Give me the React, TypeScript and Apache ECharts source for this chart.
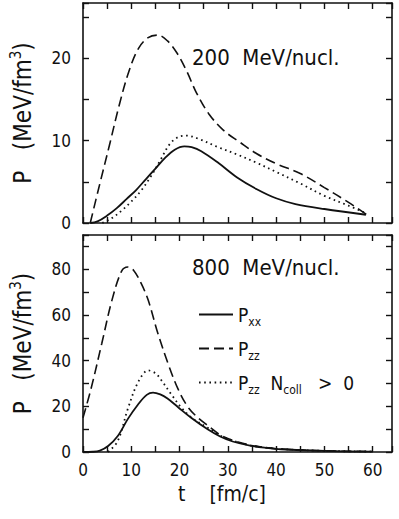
import React, { useEffect, useRef } from "react";
import * as echarts from "echarts";

// ---- data: [t (fm/c), P (MeV/fm^3)] ----
const top_Pxx: number[][] = [
  [1.5, 0], [3, 0.2], [5, 0.9], [7, 1.8], [9, 2.9], [11, 4.0], [13, 5.3], [15, 6.6],
  [17, 7.9], [19, 8.9], [21, 9.3], [22.5, 9.2], [24.5, 8.7], [28, 7.3], [32, 5.5],
  [36, 4.1], [40, 3.0], [44, 2.3], [50, 1.7], [58.6, 1.0],
];
const top_Pzz: number[][] = [
  [1.5, 0], [3.5, 4.8], [5.5, 9.5], [7.5, 14.3], [9.5, 18.4], [11.5, 21.2], [13.5, 22.5],
  [15.5, 22.8], [17.5, 22.1], [19.5, 20.6], [21.5, 18.4], [23.5, 15.8], [26, 13.3],
  [29, 11.3], [32.5, 9.8], [36, 8.4], [40, 7.2], [45, 6.0], [50, 4.3], [55, 2.5], [58.8, 1.0],
];
const top_PzzColl: number[][] = [
  [4, 0], [6, 0.6], [8, 1.5], [10, 2.6], [12, 3.9], [14, 5.6], [16, 7.6], [18, 9.6],
  [20, 10.5], [21.5, 10.6], [24, 10.2], [28, 9.2], [32, 8.3], [36, 7.3], [40, 6.2],
  [45, 4.8], [50, 3.3], [55, 2.1], [58.6, 1.2],
];
const bot_Pxx: number[][] = [
  [0, 0], [2, 0.1], [3.5, 0.6], [5.2, 2.6], [7.2, 7], [9.3, 14.5], [11.4, 20.8],
  [13.2, 25], [14.5, 26], [16, 25.2], [17.5, 23.4], [19.7, 19.6], [22.4, 15], [25.9, 9.8],
  [28.4, 6.8], [31, 4.6], [34.6, 2.8], [38, 1.8], [41, 1.2], [50, 0.5], [60, 0.2],
];
const bot_Pzz: number[][] = [
  [0, 15], [1.7, 28], [3.9, 47.6], [6, 66.5], [8, 79.2], [9.3, 81], [10.5, 79.5],
  [12, 74], [13.5, 66.5], [15.5, 52], [17.6, 38.8], [19.7, 27.5], [21.7, 19.8], [23.8, 15],
  [25.9, 11.5], [28.4, 7.5], [31, 5.1], [34.6, 3], [38, 1.9], [41, 1.3], [50, 0.5], [60, 0.2],
];
const bot_PzzColl: number[][] = [
  [5.2, 0], [7.2, 4.8], [9.3, 19], [11.4, 30.5], [13.5, 35.7], [15, 34.5], [16.2, 31.5],
  [18.2, 25.5], [20.3, 19.6], [22.4, 15.2], [25.9, 10.5], [28.4, 7.2], [31, 5], [34.6, 2.9],
  [38, 1.9], [41, 1.3], [50, 0.5], [60, 0.2],
];

const xTicks = [0, 10, 20, 30, 40, 50, 60];
const topYTicks = [0, 10, 20];
const botYTicks = [0, 20, 40, 60, 80];
const titles = ["200  MeV/nucl.", "800  MeV/nucl."];
const xTitle = "t    [fm/c]";
const seriesNames = ["Pxx", "Pzz", "Pzz Ncoll > 0"];

const FONT = "'Liberation Sans Narrow','DejaVu Sans Condensed','DejaVu Sans',sans-serif";
const BLACK = "#111";

export default function App() {
  const ref = useRef<HTMLDivElement>(null);
  useEffect(() => {
    document.body.style.margin = "0";
    const chart = echarts.init(ref.current!, undefined, { renderer: "svg" });

    const axisLineStyle = { color: BLACK, width: 1.6 };
    const mkX = (gridIndex: number, position: "bottom" | "top", labels: boolean) => ({
      type: "value",
      gridIndex,
      position,
      min: 0,
      max: 64,
      interval: 5,
      axisLine: { show: true, onZero: false, lineStyle: axisLineStyle },
      axisTick: { show: true, inside: true, length: 6, lineStyle: { color: BLACK, width: 1.4 } },
      splitLine: { show: false },
      axisLabel: {
        show: labels,
        margin: 9,
        fontSize: 17,
        fontFamily: FONT,
        color: BLACK,
        formatter: (v: number) => (xTicks.includes(v) ? String(v) : ""),
      },
    });
    const yName = {
      name: "{a|P   (MeV/fm}{b|3}{a|)}",
      nameLocation: "middle",
      nameGap: 45,
      nameTextStyle: {
        rich: {
          a: { fontSize: 24, fontFamily: FONT, color: BLACK, lineHeight: 30 },
          b: { fontSize: 15, fontFamily: FONT, color: BLACK, lineHeight: 15, verticalAlign: "top" },
        },
      },
    };
    const mkY = (gridIndex: number, position: "left" | "right", max: number, interval: number, ticks: number[] | null) => ({
      type: "value",
      gridIndex,
      position,
      min: 0,
      max,
      interval,
      axisLine: { show: true, onZero: false, lineStyle: axisLineStyle },
      axisTick: { show: true, inside: true, length: 6, lineStyle: { color: BLACK, width: 1.4 } },
      splitLine: { show: false },
      axisLabel: {
        show: !!ticks,
        margin: 12,
        fontSize: 17,
        fontFamily: FONT,
        color: BLACK,
        formatter: (v: number) => (ticks && ticks.includes(v) ? String(v) : ""),
      },
      ...(ticks ? yName : {}),
    });

    const lineStyles = [
      { color: BLACK, width: 1.8, type: "solid" },
      { color: BLACK, width: 1.6, type: [10, 5] },
      { color: BLACK, width: 1.8, type: [1.6, 3.6] },
    ];
    const mkS = (name: string, data: number[][], xi: number, yi: number, ls: any) => ({
      type: "line",
      name,
      data,
      xAxisIndex: xi,
      yAxisIndex: yi,
      showSymbol: false,
      symbol: "none",
      smooth: 0.35,
      lineStyle: ls,
      itemStyle: { color: BLACK },
      z: 3,
    });

    const legendRich = {
      p: { fontSize: 19, fontFamily: FONT, color: BLACK, lineHeight: 26 },
      s: { fontSize: 12, fontFamily: FONT, color: BLACK, lineHeight: 12, verticalAlign: "bottom" },
    };
    const legendFmt = (n: string) => {
      if (n === seriesNames[0]) return "{p|P}{s|xx}";
      if (n === seriesNames[1]) return "{p|P}{s|zz}";
      return "{p|P}{s|zz}{p|  N}{s|coll}{p|   >  0}";
    };
    const mkLegend = (name: string, top: number) => ({
      data: [name],
      left: 198,
      top,
      padding: 0,
      itemWidth: 34,
      itemHeight: 14,
      selectedMode: false,
      formatter: legendFmt,
      itemStyle: { opacity: 0 },
      textStyle: { rich: legendRich, color: BLACK },
    });

    chart.setOption({
      animation: false,
      backgroundColor: "#fff",
      grid: [
        { left: 83, top: 3, width: 309, height: 220 },
        { left: 83, top: 235, width: 309, height: 217 },
      ],
      xAxis: [
        mkX(0, "bottom", false),
        mkX(0, "top", false),
        mkX(1, "bottom", true),
        mkX(1, "top", false),
      ],
      yAxis: [
        mkY(0, "left", 26.7, 5, topYTicks),
        mkY(0, "right", 26.7, 5, null),
        mkY(1, "left", 95, 10, botYTicks),
        mkY(1, "right", 95, 10, null),
      ],
      legend: [
        mkLegend(seriesNames[0], 305),
        mkLegend(seriesNames[1], 339),
        mkLegend(seriesNames[2], 373),
      ],
      graphic: [
        {
          type: "text",
          left: 192,
          top: 46,
          style: { text: titles[0], fontSize: 22, fontFamily: FONT, fill: BLACK },
        },
        {
          type: "text",
          left: 192,
          top: 256,
          style: { text: titles[1], fontSize: 22, fontFamily: FONT, fill: BLACK },
        },
        {
          type: "text",
          left: 178,
          top: 483,
          style: { text: xTitle, fontSize: 21, fontFamily: FONT, fill: BLACK },
        },
      ],
      series: [
        mkS(seriesNames[0], top_Pxx, 0, 0, lineStyles[0]),
        mkS(seriesNames[1], top_Pzz, 0, 0, lineStyles[1]),
        mkS(seriesNames[2], top_PzzColl, 0, 0, lineStyles[2]),
        mkS(seriesNames[0], bot_Pxx, 2, 2, lineStyles[0]),
        mkS(seriesNames[1], bot_Pzz, 2, 2, lineStyles[1]),
        mkS(seriesNames[2], bot_PzzColl, 2, 2, lineStyles[2]),
      ],
    });
    return () => chart.dispose();
  }, []);
  return <div ref={ref} style={{ width: 399, height: 519, position: "absolute", left: 0, top: 0 }} />;
}
